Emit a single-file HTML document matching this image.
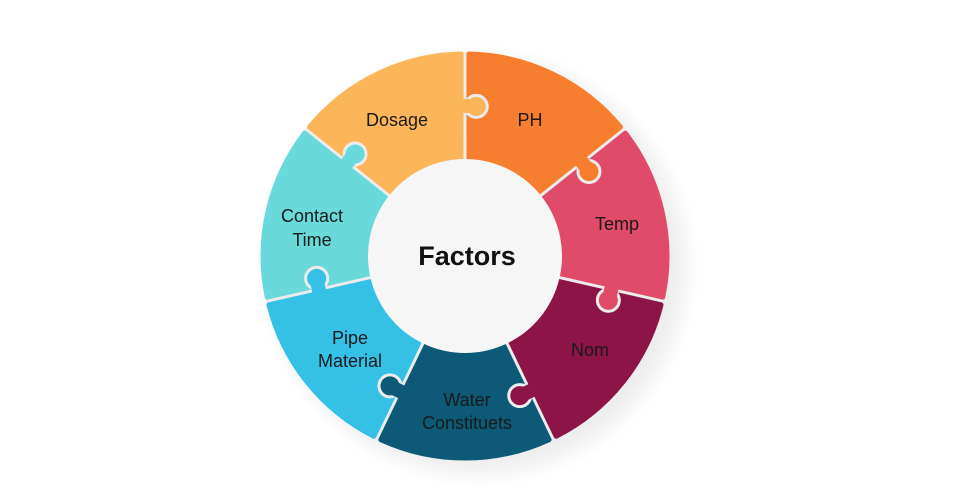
<!DOCTYPE html>
<html><head><meta charset="utf-8"><style>
html,body{margin:0;padding:0;background:#fff;}
svg{display:block}
text{font-family:"Liberation Sans","DejaVu Sans",sans-serif;fill:#1a1a1a;text-anchor:middle}
</style></head><body>
<svg id="s" width="960" height="504" viewBox="0 0 960 504">
<defs>
<filter id="sh" x="-30%" y="-30%" width="160%" height="160%"><feGaussianBlur stdDeviation="10"/></filter>
</defs>
<circle cx="478" cy="266" r="208" fill="#d8d8d8" opacity="0.45" filter="url(#sh)"/>
<circle cx="465" cy="256" r="204" fill="#ececec"/>
<g id="g"></g>
<circle cx="465" cy="256" r="97" fill="#f6f6f6"/>
<text x="467" y="265" font-size="27" font-weight="bold" style="fill:#111">Factors</text>
<text x="397" y="126" font-size="18">Dosage</text>
<text x="530" y="126" font-size="18">PH</text>
<text x="617" y="230" font-size="18">Temp</text>
<text x="590" y="356" font-size="18">Nom</text>
<text x="467" y="406" font-size="18">Water</text>
<text x="467" y="429" font-size="18">Constituets</text>
<text x="350" y="344" font-size="18">Pipe</text>
<text x="350" y="367" font-size="18">Material</text>
<text x="312" y="222" font-size="18">Contact</text>
<text x="312" y="246" font-size="18">Time</text>
</svg>
<script>
var cx=465,cy=256,R=205,r=97,gap=4;
var cols=["#f77e2e","#e04b69","#8c1447","#0c5a78","#35c1e6","#6ad9dc","#fdb55a"];
var g=document.getElementById('g');
function P(rad,a){return [cx+rad*Math.cos(a),cy+rad*Math.sin(a)];}
var step=2*Math.PI/7,start=-Math.PI/2;
var h="",kn="";
for(var i=0;i<7;i++){
 var a0=start+i*step,a1=a0+step;
 var dO=gap/R,dI=gap/r;
 var p1=P(R-3,a0+dO),p2=P(R-3,a1-dO),p3=P(r,a1-dI),p4=P(r,a0+dI);
 var d="M"+p1+" A"+(R-3)+" "+(R-3)+" 0 0 1 "+p2+" L"+p3+" A"+r+" "+r+" 0 0 0 "+p4+"Z";
 h+='<path d="'+d+'" fill="'+cols[i]+'" stroke="'+cols[i]+'" stroke-width="5" stroke-linejoin="round"/>';
 var k=P(150,a1+0.075);
 kn+='<circle cx="'+k[0]+'" cy="'+k[1]+'" r="11" fill="'+cols[i]+'" stroke="#ececec" stroke-width="3"/>';
 var n=P(150,a1-0.005);
 kn+='<rect x="'+(n[0]-7)+'" y="'+(n[1]-7)+'" width="14" height="14" fill="'+cols[i]+'" transform="rotate('+(a1*180/Math.PI)+' '+n[0]+' '+n[1]+')"/>';
}
g.innerHTML=h+kn;
</script>
</body></html>
